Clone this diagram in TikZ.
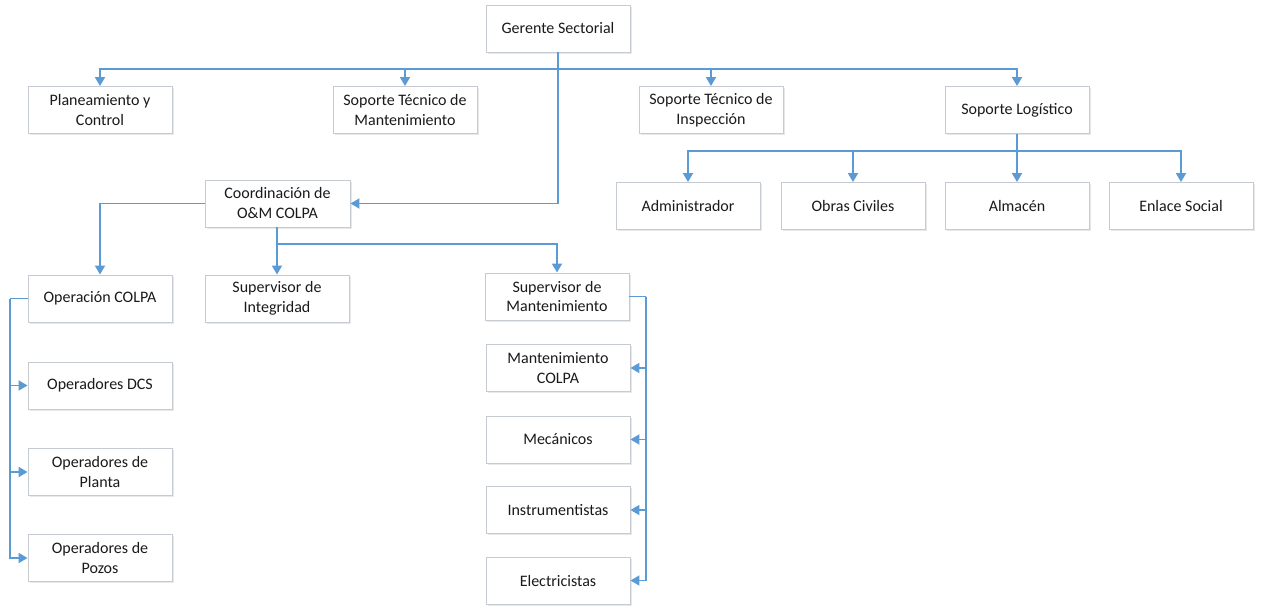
\documentclass[tikz,border=0pt]{standalone}
\usepackage{fontspec}
\setmainfont{Carlito}
\usetikzlibrary{arrows.meta,shadows,calc}
\definecolor{wireblue}{HTML}{5B9BD5}
\definecolor{boxgray}{HTML}{C6CBD1}
\definecolor{txt}{HTML}{1A1A1A}
\tikzset{
  orgbox/.style={draw=boxgray, line width=0.9pt, fill=white, minimum width=144pt, minimum height=47pt,
    inner sep=0pt, align=center, text=txt, font=\fontsize{16}{20}\selectfont,
    drop shadow={opacity=0.18, shadow xshift=1.5pt, shadow yshift=-1.5pt}},
  wire/.style={draw=wireblue, line width=1.8pt},
  conn/.style={wire, -{Triangle[length=9pt,width=10pt]}}
}
\begin{document}
\begin{tikzpicture}[x=1pt,y=-1pt]
\useasboundingbox (0,0) rectangle (1263,605);
% top level
\node[orgbox] (ger) at (558,28.5) {Gerente Sectorial};
\node[orgbox] (plan) at (100,110) {Planeamiento y\\Control};
\node[orgbox] (stm) at (405,110) {Soporte Técnico de\\Mantenimiento};
\node[orgbox] (sti) at (711,110) {Soporte Técnico de\\Inspección};
\node[orgbox] (log) at (1017,110) {Soporte  Logístico};
% logistics
\node[orgbox] (adm) at (688,206) {Administrador};
\node[orgbox] (obr) at (853,206) {Obras Civiles};
\node[orgbox] (alm) at (1017,206) {Almacén};
\node[orgbox] (enl) at (1181,206) {Enlace Social};
% coordination
\node[orgbox, minimum width=145pt] (coo) at (277.5,203.5) {Coordinación de\\O\&M COLPA};
\node[orgbox] (opc) at (100,298.5) {Operación  COLPA};
\node[orgbox] (supi) at (277,298.5) {Supervisor de\\Integridad};
\node[orgbox] (supm) at (557,296.5) {Supervisor de\\Mantenimiento};
% operation
\node[orgbox] (dcs) at (100,385.5) {Operadores DCS};
\node[orgbox] (opl) at (100,472) {Operadores de\\Planta};
\node[orgbox] (opz) at (100,558) {Operadores de\\Pozos};
% maintenance
\node[orgbox] (mco) at (558,368) {Mantenimiento\\COLPA};
\node[orgbox] (mec) at (558,439.5) {Mecánicos};
\node[orgbox] (ins) at (558,510) {Instrumentistas};
\node[orgbox] (ele) at (558,580.5) {Electricistas};
% connectors
\coordinate (gb) at (558,69);
\draw[wire] (ger.south) -- (gb);
\draw[conn] (gb) -| (plan.north);
\draw[conn] (gb) -| (stm.north);
\draw[conn] (gb) -| (sti.north);
\draw[conn] (gb) -| (log.north);
\draw[conn] (gb) |- (coo.east);
\coordinate (lb) at (1017,151);
\draw[wire] (log.south) -- (lb);
\draw[conn] (lb) -| (adm.north);
\draw[conn] (lb) -| (obr.north);
\draw[conn] (lb) -- (alm.north);
\draw[conn] (lb) -| (enl.north);
\draw[conn] (coo.west) -| (opc.north);
\coordinate (cb) at (277,244);
\draw[wire] (coo.south -| cb) -- (cb);
\draw[conn] (cb) -- (supi.north -| cb);
\draw[conn] (cb) -| (supm.north);
\coordinate (ob) at (10,298.5);
\draw[wire] (opc.west) -- (ob);
\draw[conn] (ob) |- (dcs.west);
\draw[conn] (ob) |- (opl.west);
\draw[conn] (ob) |- (opz.west);
\coordinate (sb) at (646,296.5);
\draw[wire] (supm.east) -- (sb);
\draw[conn] (sb) |- (mco.east);
\draw[conn] (sb) |- (mec.east);
\draw[conn] (sb) |- (ins.east);
\draw[conn] (sb) |- (ele.east);
\end{tikzpicture}
\end{document}
